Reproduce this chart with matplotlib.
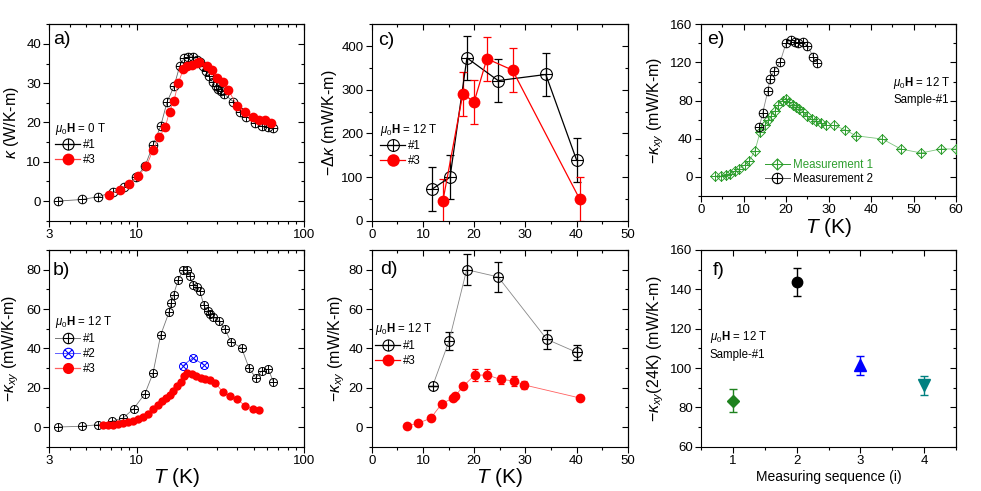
import numpy as np
import matplotlib
matplotlib.use('Agg')
import matplotlib.pyplot as plt
from matplotlib.path import Path
from matplotlib.lines import Line2D
from matplotlib.ticker import MultipleLocator, LogLocator, NullFormatter, FixedLocator

plt.rcParams['font.family'] = ['Liberation Sans', 'DejaVu Sans']
plt.rcParams['mathtext.fontset'] = 'custom'
plt.rcParams['mathtext.rm'] = 'Liberation Sans'
plt.rcParams['mathtext.it'] = 'Liberation Sans:italic'
plt.rcParams['mathtext.bf'] = 'Liberation Sans:bold'
plt.rcParams['axes.linewidth'] = 0.8

# ---------------- data ----------------
# panel a: kappa (W/K-m), 0 T
T1a = [3.4, 4.7, 5.9, 7.2, 8.4, 9.9, 11.2, 12.5, 13.9, 15.2, 16.7, 18.1, 19.2, 20.3, 21.6, 22.8,
       23.9, 25.0, 25.9, 27.1, 28.4, 29.8, 30.7, 31.8, 33.2, 37.8, 41.4, 45.3, 50.9, 55.8, 61.0, 65.6]
K1a = [0.0, 0.4, 1.1, 2.3, 3.6, 6.0, 8.9, 14.2, 19.1, 25.3, 29.2, 34.5, 36.4, 36.7, 36.7, 36.0,
       35.3, 34.3, 33.0, 31.9, 30.2, 29.2, 28.5, 27.9, 27.3, 25.3, 22.8, 21.5, 19.9, 19.1, 18.8, 18.5]
T3a = [6.8, 7.9, 9.0, 10.2, 11.4, 12.5, 13.6, 14.8, 15.7, 16.7, 17.7, 19.0, 20.1, 21.3, 22.8, 23.7,
       26.2, 28.0, 30.3, 32.7, 35.3, 39.9, 44.4, 49.3, 54.1, 58.5, 63.2]
K3a = [1.5, 2.8, 4.3, 6.4, 8.8, 13.0, 16.3, 18.8, 22.8, 25.6, 30.0, 33.6, 34.3, 34.7, 35.2, 35.4,
       34.3, 33.4, 31.3, 30.2, 28.2, 24.3, 22.8, 21.4, 20.7, 20.7, 19.8]

# panel b: -kappa_xy (mW/K-m), 12 T
T1b = [3.4, 4.7, 5.9, 7.1, 8.3, 9.6, 11.2, 12.5, 13.9, 15.6, 16.1, 16.6, 17.7, 19.0, 20.1, 20.8,
       21.7, 22.8, 23.9, 25.2, 26.5, 27.5, 28.7, 31.0, 33.6, 36.5, 42.3, 47.0, 51.5, 55.8, 61.1, 65.6]
K1b = [0.0, 0.4, 1.2, 3.0, 4.6, 9.4, 17.0, 27.3, 46.8, 58.4, 63.3, 67.3, 74.9, 80.0, 80.0, 76.6,
       72.4, 71.2, 69.0, 61.8, 59.1, 57.4, 55.7, 54.0, 49.9, 43.4, 40.3, 29.8, 25.0, 28.4, 29.5, 23.0]
T2b = [18.8, 21.6, 25.3]
K2b = [31.0, 35.2, 31.5]
T3b = [6.3, 6.75, 7.2, 7.7, 8.3, 8.9, 9.5, 10.2, 10.95, 11.7, 12.5, 13.4, 14.1, 14.9, 15.8, 16.5,
       17.4, 18.3, 19.2, 20.1, 21.3, 22.6, 24.1, 25.5, 27.4, 29.4, 32.9, 36.1, 39.6, 44.4, 49.8, 54.1]
K3b = [0.9, 0.9, 1.2, 1.5, 1.9, 2.6, 3.1, 3.9, 5.1, 6.8, 9.0, 11.4, 13.1, 14.8, 16.2, 18.2,
       20.9, 23.0, 26.0, 27.3, 26.8, 26.0, 25.0, 24.4, 23.9, 22.5, 17.6, 15.8, 14.5, 10.7, 9.4, 8.9]

# panel c: -Delta kappa (mW/K-m)
T1c = [11.85, 15.3, 18.6, 24.7, 34.0, 40.0]
D1c = [72.8, 99.6, 373.0, 321.0, 335.0, 139.5]
E1c = [50, 50, 50, 50, 50, 50]
T3c = [13.9, 17.8, 20.0, 22.5, 27.5, 40.6]
D3c = [45.0, 291.0, 272.0, 371.0, 345.0, 50.0]
E3c = [50, 50, 50, 50, 50, 50]

# panel d: -kappa_xy (mW/K-m)
T1d = [11.9, 15.1, 18.55, 24.7, 34.2, 40.0]
K1d = [20.9, 43.7, 80.0, 76.3, 44.6, 38.0]
E1d = [0.0, 4.4, 8.0, 7.7, 4.7, 3.8]
T3d = [6.8, 9.1, 11.5, 13.7, 15.8, 16.3, 17.9, 20.1, 22.6, 25.2, 27.7, 29.8, 40.6]
K3d = [0.5, 2.0, 4.4, 11.9, 14.6, 15.8, 20.8, 26.4, 26.4, 24.2, 23.5, 21.4, 14.8]
E3d = [0, 0, 0, 0, 0, 0, 0, 3.0, 3.0, 2.5, 2.5, 2.0, 0]

# panel e: sample #1, two measurements
T_m1 = [3.3, 4.6, 5.9, 6.8, 8.0, 9.0, 10.4, 11.4, 12.7, 13.9, 15.1, 15.8, 16.4, 17.4, 18.2, 19.2,
        20.0, 20.8, 21.6, 22.4, 23.1, 24.1, 25.0, 26.0, 27.1, 28.2, 29.4, 31.2, 33.9, 36.4, 42.7,
        47.0, 51.8, 56.4, 60.0]
K_m1 = [0.7, 0.7, 1.7, 3.5, 5.9, 8.7, 12.9, 17.1, 27.5, 47.0, 54.7, 60.0, 63.4, 69.4, 75.6, 79.8,
        81.9, 78.4, 75.6, 72.8, 71.5, 68.0, 63.4, 60.6, 58.2, 56.5, 54.0, 54.0, 49.5, 43.2, 39.7,
        29.3, 25.1, 29.3, 29.3]
T_m2 = [13.7, 14.5, 15.7, 16.2, 17.2, 18.6, 20.0, 21.1, 22.0, 22.9, 23.9, 25.0, 26.4, 27.4]
K_m2 = [51.9, 66.9, 89.6, 102.8, 111.2, 120.2, 140.1, 143.6, 141.9, 140.1, 141.2, 137.7, 126.2, 119.2]

# panel f: -kappa_xy(24K) vs measuring sequence
seq = [1, 2, 3, 4]
K24 = [83.4, 143.6, 101.3, 91.2]
E24 = [5.9, 7.0, 5.0, 4.7]
f_colors = ['#1e821e', 'black', '#0000ff', '#008080']
f_markers = ['D', 'o', '^', 'v']
f_sizes = [6.5, 7.5, 8, 8]

# ---------------- markers ----------------
circ = Path.unit_circle()
CC = Path(list(circ.vertices) + [(-1, 0), (1, 0), (0, -1), (0, 1)],
          list(circ.codes) + [Path.MOVETO, Path.LINETO, Path.MOVETO, Path.LINETO])
r2 = 0.7071
XC = Path(list(circ.vertices) + [(-r2, -r2), (r2, r2), (-r2, r2), (r2, -r2)],
          list(circ.codes) + [Path.MOVETO, Path.LINETO, Path.MOVETO, Path.LINETO])
DP = Path([(0, -1), (1, 0), (0, 1), (-1, 0), (0, -1), (-1, 0), (1, 0), (0, -1), (0, 1)],
          [Path.MOVETO, Path.LINETO, Path.LINETO, Path.LINETO, Path.CLOSEPOLY,
           Path.MOVETO, Path.LINETO, Path.MOVETO, Path.LINETO])

W, H = 981, 491
fig = plt.figure(figsize=(9.81, 4.91), dpi=100)


def rect(l, r, t, b):
    return [l / W, 1 - b / H, (r - l) / W, (b - t) / H]


def setup(ax, xmaj, xmin, ymaj, ymin, xlim, ylim, log=False):
    if log:
        ax.set_xscale('log')
    ax.set_xlim(*xlim)
    ax.set_ylim(*ylim)
    ax.tick_params(which='both', direction='out', top=False, right=False, width=0.8,
                   labelsize=9.5, pad=2)
    ax.tick_params(which='major', length=4)
    ax.tick_params(which='minor', length=2.2)
    if log:
        ax.set_xticks([3, 10, 100])
        ax.set_xticklabels(['3', '10', '100'])
        ax.xaxis.set_minor_locator(LogLocator(subs=range(2, 10)))
        ax.xaxis.set_minor_formatter(NullFormatter())
    else:
        ax.xaxis.set_major_locator(MultipleLocator(xmaj))
        ax.xaxis.set_minor_locator(MultipleLocator(xmin))
    ax.yaxis.set_major_locator(MultipleLocator(ymaj))
    ax.yaxis.set_minor_locator(MultipleLocator(ymin))
    sx = ax.secondary_xaxis('top')
    sy = ax.secondary_yaxis('right')
    for s in (sx, sy):
        s.tick_params(which='both', direction='in', width=0.8, labeltop=False, labelright=False,
                      labelbottom=False, labelleft=False)
        s.tick_params(which='major', length=4)
        s.tick_params(which='minor', length=2.2)
    if log:
        sx.xaxis.set_major_locator(FixedLocator([3, 10, 100]))
        sx.xaxis.set_minor_locator(LogLocator(subs=range(2, 10)))
        sx.xaxis.set_minor_formatter(NullFormatter())
    else:
        sx.xaxis.set_major_locator(MultipleLocator(xmaj))
        sx.xaxis.set_minor_locator(MultipleLocator(xmin))
    sy.yaxis.set_major_locator(MultipleLocator(ymaj))
    sy.yaxis.set_minor_locator(MultipleLocator(ymin))


def leg(ax, handles, labels, title, x, y, colors=None):
    kw = dict(loc='upper left', bbox_to_anchor=(x, y), frameon=False, fontsize=8.3,
              title_fontsize=8.3, handlelength=2.2, handletextpad=0.25, labelspacing=0.25,
              borderpad=0, borderaxespad=0, alignment='left')
    if colors is not None:
        kw['labelcolor'] = colors
    ax.legend(handles, labels, title=title, **kw)


def proxy_open(color, marker, ms=8):
    return Line2D([], [], color=color, lw=0.9, marker=marker, ms=ms, mfc='none', mec=color,
                  mew=0.8)


def proxy_fill(color, ms=8.5, lc=None):
    return Line2D([], [], color=lc or color, lw=0.9, marker='o', ms=ms, mfc=color, mec=color,
                  mew=0)


TL = r'$T$ (K)'
KXY = r'$-\kappa_{xy}$ (mW/K-m)'

# ---------------- panel a ----------------
ax = fig.add_axes(rect(49.3, 304, 24.3, 220.7))
setup(ax, None, None, 10, 5, (3, 100), (-5, 45), log=True)
ax.plot(T1a, K1a, color='#666666', lw=0.6, marker=CC, ms=6.2, mfc='none', mec='black',
        mew=0.7, zorder=3)
ax.plot(T3a, K3a, color='#ff6060', lw=0.6, marker='o', ms=7, mfc='red', mec='red',
        mew=0, zorder=4)
ax.set_ylabel(r'$\kappa$ (W/K-m)', fontsize=11.5, labelpad=4)
ax.text(0.015, 0.925, 'a)', transform=ax.transAxes, fontsize=14, ha='left', va='center')
leg(ax, [proxy_open('black', CC), proxy_fill('red', lc='#ff4040')], ['#1', '#3'],
    r'$\mu_0\mathbf{H}$ = 0 T', 0.022, 0.51)

# ---------------- panel b ----------------
ax = fig.add_axes(rect(49.3, 304, 250, 446.7))
setup(ax, None, None, 20, 10, (3, 100), (-10, 90), log=True)
ax.plot(T1b, K1b, color='#777777', lw=0.6, marker=CC, ms=5.8, mfc='none', mec='black',
        mew=0.7, zorder=3)
ax.plot(T2b, K2b, color='#4040ff', lw=0.6, marker=XC, ms=5.8, mfc='none', mec='#0000ff',
        mew=0.7, zorder=3)
ax.plot(T3b, K3b, color='#ff6060', lw=0.6, marker='o', ms=6, mfc='red', mec='red',
        mew=0, zorder=4)
ax.set_ylabel(KXY, fontsize=11.5, labelpad=4)
ax.set_xlabel(TL, fontsize=15, labelpad=-0.5)
ax.text(0.015, 0.898, 'b)', transform=ax.transAxes, fontsize=14, ha='left', va='center')
leg(ax, [Line2D([], [], color='#777777', lw=0.7, marker=CC, ms=7.5, mfc='none', mec='black', mew=0.8),
         Line2D([], [], color='#6060ff', lw=0.7, marker=XC, ms=7.5, mfc='none', mec='#0000ff', mew=0.8),
         proxy_fill('red', ms=8, lc='#ff6060')],
    ['#1', '#2', '#3'], r'$\mu_0\mathbf{H}$ = 12 T', 0.022, 0.675)

# ---------------- panel c ----------------
ax = fig.add_axes(rect(371.7, 627.7, 24.3, 220.7))
setup(ax, 10, 5, 100, 50, (0, 50), (0, 450))
ax.errorbar(T1c, D1c, yerr=E1c, fmt='none', ecolor='black', elinewidth=0.9, capsize=2.8,
            capthick=0.9, zorder=2)
ax.errorbar(T3c, D3c, yerr=E3c, fmt='none', ecolor='red', elinewidth=0.9, capsize=2.8,
            capthick=0.9, zorder=2)
ax.plot(T1c, D1c, color='black', lw=0.9, marker=CC, ms=8.5, mfc='none', mec='black',
        mew=0.8, zorder=3)
ax.plot(T3c, D3c, color='red', lw=0.9, marker='o', ms=8.5, mfc='red', mec='red',
        mew=0, zorder=4)
ax.set_ylabel(r'$-\Delta\kappa$ (mW/K-m)', fontsize=11.5, labelpad=1.5)
ax.text(0.025, 0.92, 'c)', transform=ax.transAxes, fontsize=14, ha='left', va='center')
leg(ax, [proxy_open('black', CC, ms=8.5), proxy_fill('red', ms=9)], ['#1', '#3'],
    r'$\mu_0\mathbf{H}$ = 12 T', 0.032, 0.505)

# ---------------- panel d ----------------
ax = fig.add_axes(rect(371.7, 627.7, 250, 446.7))
setup(ax, 10, 5, 20, 10, (0, 50), (-10, 90))
ax.errorbar(T1d, K1d, yerr=E1d, fmt='none', ecolor='black', elinewidth=0.9, capsize=2.8,
            capthick=0.9, zorder=2)
ax.errorbar(T3d, K3d, yerr=E3d, fmt='none', ecolor='red', elinewidth=0.9, capsize=2.5,
            capthick=0.9, zorder=2)
ax.plot(T1d, K1d, color='#888888', lw=0.6, marker=CC, ms=7, mfc='none', mec='black',
        mew=0.8, zorder=3)
ax.plot(T3d, K3d, color='#ff6060', lw=0.6, marker='o', ms=7, mfc='red', mec='red',
        mew=0, zorder=4)
ax.set_ylabel(KXY, fontsize=11.5, labelpad=1.5)
ax.set_xlabel(TL, fontsize=15, labelpad=-0.5)
ax.text(0.032, 0.903, 'd)', transform=ax.transAxes, fontsize=14, ha='left', va='center')
leg(ax, [proxy_open('black', CC, ms=8), proxy_fill('red', ms=8.5)], ['#1', '#3'],
    r'$\mu_0\mathbf{H}$ = 12 T', 0.013, 0.64)

# ---------------- panel e ----------------
ax = fig.add_axes(rect(701, 956, 24.3, 196))
setup(ax, 10, 5, 40, 20, (0, 60), (-20, 160))
ax.plot(T_m1, K_m1, color='#7cc47c', lw=0.6, marker=DP, ms=7, mfc='none', mec='#2e9e2e',
        mew=0.7, zorder=3)
ax.plot(T_m2, K_m2, color='#888888', lw=0.6, marker=CC, ms=6.2, mfc='none', mec='black',
        mew=0.7, zorder=4)
ax.set_ylabel(KXY, fontsize=11.5, labelpad=3)
ax.set_xlabel(TL, fontsize=15, labelpad=0)
ax.text(0.024, 0.914, 'e)', transform=ax.transAxes, fontsize=14, ha='left', va='center')
ax.text(0.753, 0.66, r'$\mu_0\mathbf{H}$ = 12 T', transform=ax.transAxes, fontsize=8.3,
        ha='left', va='center')
ax.text(0.753, 0.559, 'Sample-#1', transform=ax.transAxes, fontsize=8.3, ha='left', va='center')
ax.legend([Line2D([], [], color='#2e9e2e', lw=0.7, marker=DP, ms=8, mfc='none', mec='#2e9e2e', mew=0.8),
           Line2D([], [], color='#555555', lw=0.7, marker=CC, ms=7.5, mfc='none', mec='black', mew=0.8)],
          ['Measurement 1', 'Measurement 2'], loc='upper left',
          bbox_to_anchor=(0.25, 0.215), frameon=False, fontsize=8.3, handlelength=2.2,
          handletextpad=0.25, labelspacing=0.2, borderpad=0, borderaxespad=0,
          labelcolor=['#2e9e2e', 'black'])

# ---------------- panel f ----------------
ax = fig.add_axes(rect(701, 956, 250, 446.7))
setup(ax, 1, 0.5, 20, 10, (0.5, 4.5), (60, 160))
for i in range(len(seq)):
    ax.errorbar([seq[i]], [K24[i]], yerr=[E24[i]], fmt=f_markers[i], color=f_colors[i],
                ms=f_sizes[i], elinewidth=1.0, capsize=3.2, capthick=1.0, zorder=3)
ax.set_ylabel(r'$-\kappa_{xy}$(24K) (mW/K-m)', fontsize=11.5, labelpad=3)
ax.set_xlabel('Measuring sequence (i)', fontsize=10, labelpad=2)
ax.text(0.046, 0.898, 'f)', transform=ax.transAxes, fontsize=14, ha='left', va='center')
ax.text(0.035, 0.559, r'$\mu_0\mathbf{H}$ = 12 T', transform=ax.transAxes, fontsize=8.3,
        ha='left', va='center')
ax.text(0.035, 0.466, 'Sample-#1', transform=ax.transAxes, fontsize=8.3, ha='left', va='center')

fig.savefig('out.png', dpi=100)
